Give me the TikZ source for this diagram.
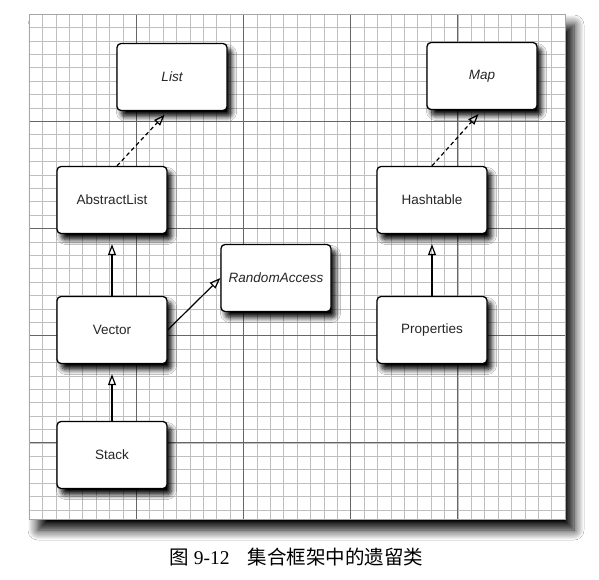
\documentclass[tikz,border=0pt]{standalone}
\usepackage{fontspec}
\setmainfont{Liberation Serif}
\setsansfont{Liberation Sans}
\newfontfamily\cjk{Noto Sans CJK SC}
\usetikzlibrary{arrows.meta,shadows.blur}

\begin{document}
\begin{tikzpicture}[x=1pt, y=-1pt,
                    class/.style={draw, line width=1.3pt, rounded corners=4pt, fill=white,
                                  minimum width=110pt, minimum height=67pt,
                                  font=\sffamily\fontsize{13.5}{16}\selectfont, text=black!85,
                                  blur shadow={shadow xshift=4.5pt, shadow yshift=-6pt,
                                               shadow blur radius=5pt, shadow opacity=100,
                                               shadow blur steps=8}},
                    iface/.style={class, font=\sffamily\itshape\fontsize{13.5}{16}\selectfont},
                    minor line/.style={gray!50, line width=0.5pt},
                    major line/.style={black!60, line width=0.7pt},
                    inherit/.style={-{Triangle[open, length=11pt, width=8pt]}, line width=1.2pt},
                    implement/.style={inherit, dash pattern=on 4pt off 3pt}]
    %\draw[help lines] (0,0) grid (599,579);

   \fill[white] (0,0) rectangle (599,579);

   % grid paper
   \fill[white, blur shadow={shadow xshift=9pt, shadow yshift=-11pt,
                             shadow blur radius=10pt, shadow opacity=100,
                             shadow blur steps=10}] (29,14) rectangle (565,519);
   \foreach \i in {0,...,40}
      \draw[minor line] ({29+13.4*\i},14) -- ({29+13.4*\i},519);
   \foreach \j in {0,...,37}
      \draw[minor line] (29,{14+13.4*\j}) -- (565,{14+13.4*\j});
   \foreach \i in {0,8,...,40}
      \draw[major line] ({29+13.4*\i},14) -- ({29+13.4*\i},519);
   \foreach \j in {0,8,...,32}
      \draw[major line] (29,{14+13.4*\j}) -- (565,{14+13.4*\j});
   \draw[gray!70, line width=0.6pt] (29,14) rectangle (565,519);

   \node[iface] (list)          at (172,77)  {List};
   \node[iface] (map)           at (482,76)  {Map};
   \node[class] (abstract_list) at (112,200) {AbstractList};
   \node[class] (hashtable)     at (432,200) {Hashtable};
   \node[iface] (random_access) at (276,278) {RandomAccess};
   \node[class] (vector)        at (112,330) {Vector};
   \node[class] (properties)    at (432,330) {Properties};
   \node[class] (stack)         at (112,455) {Stack};

   % Define relations
   \path[inherit, shorten >=10pt]
    (vector)      edge (abstract_list)
    (stack)       edge (vector)
    (properties)  edge (hashtable);
   \path[inherit]
    (vector.east) edge (random_access.west);
   \path[implement, shorten >=5pt]
    ([xshift=5pt]abstract_list.north) edge ([xshift=-4pt]list.south)
    (hashtable.north)                 edge (map.south);

   \node[anchor=west, font=\fontsize{19.5}{22}\selectfont] (caption) at (166,557)
      {{\cjk 图} 9-12\hspace{18pt}{\cjk 集合框架中的遗留类}};

\end{tikzpicture}
\end{document}
